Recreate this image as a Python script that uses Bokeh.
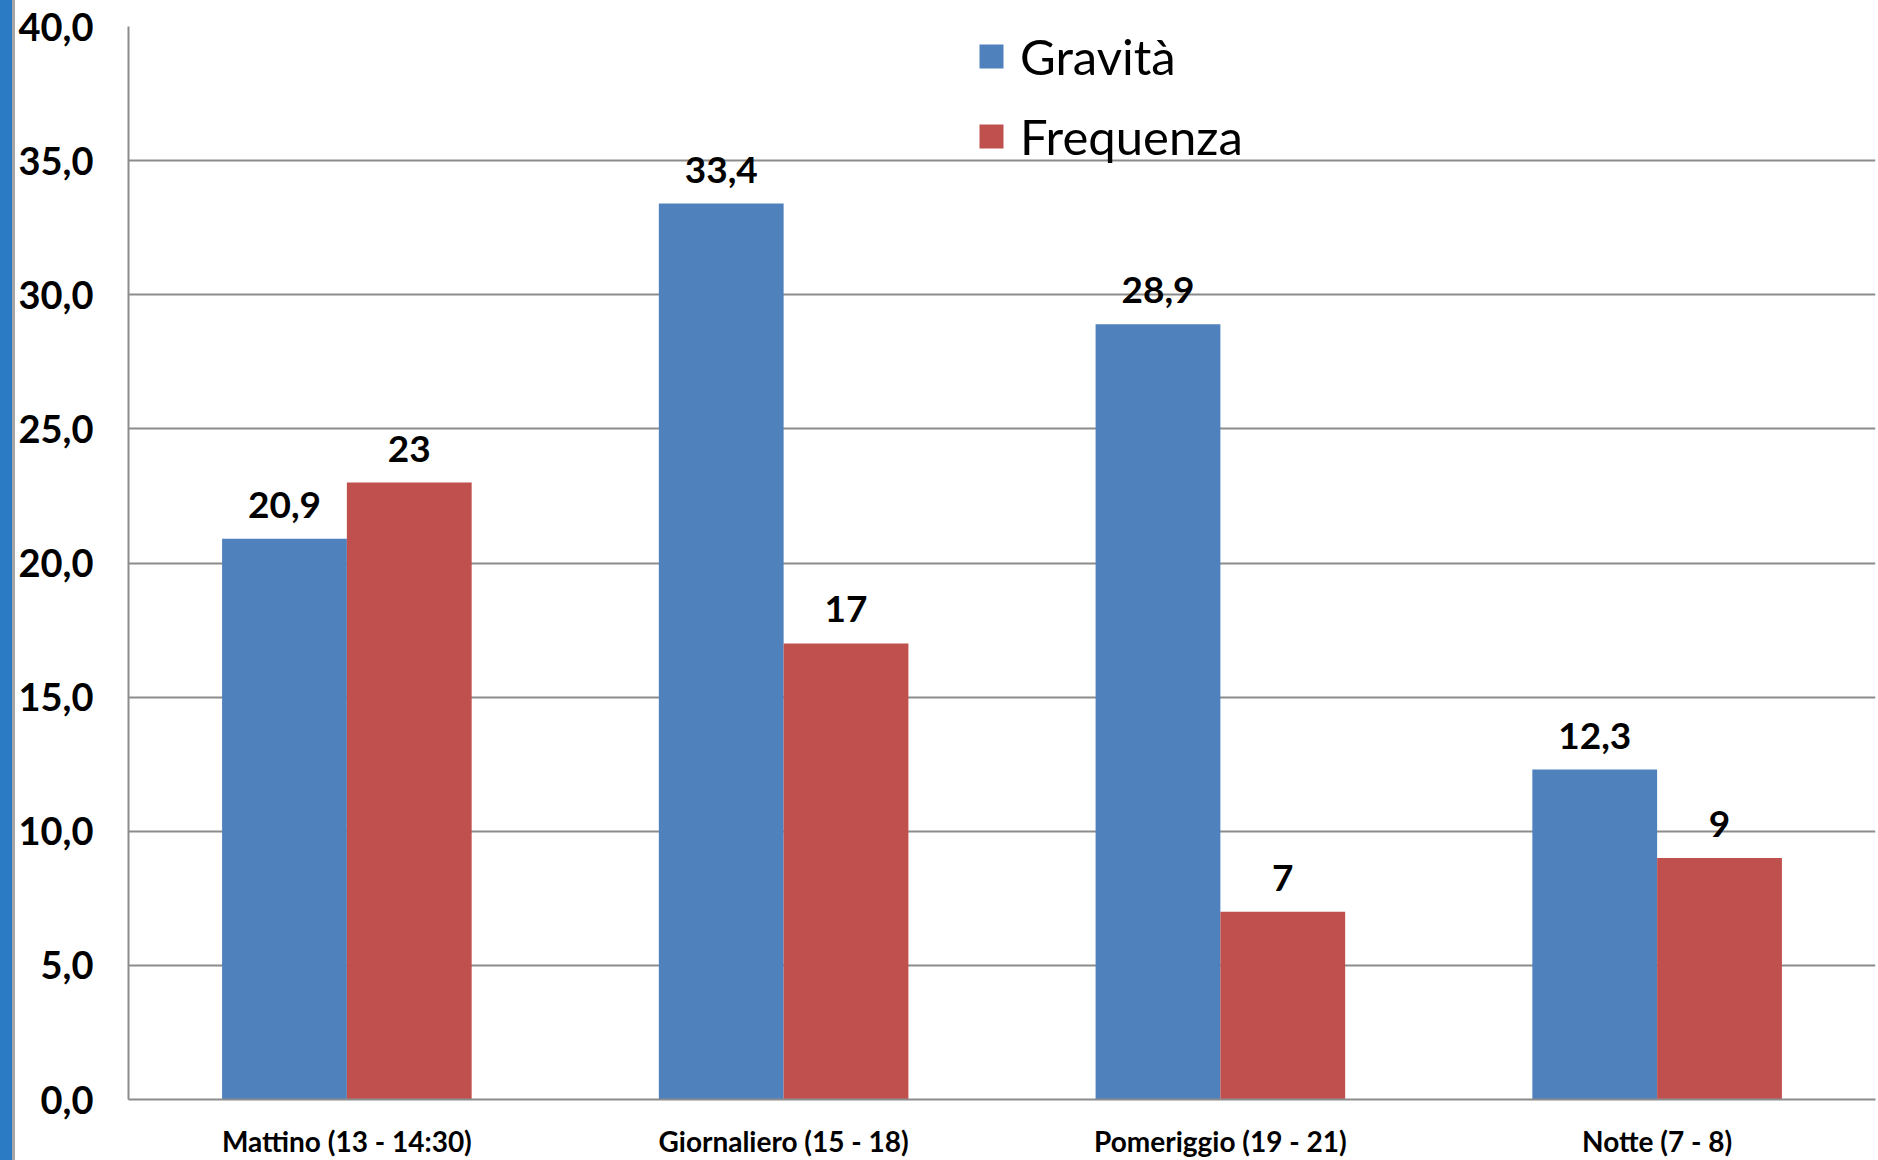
from bokeh.plotting import figure
from bokeh.models import (FactorRange, Range1d, Legend, LegendItem, CustomJSTickFormatter,
                          ColumnDataSource, Div, FixedTicker)
from bokeh.transform import dodge
from bokeh.layouts import row
from bokeh.core.properties import value
from bokeh.embed import file_html
from bokeh.resources import INLINE

categories = ["Mattino (13 - 14:30)", "Giornaliero (15 - 18)", "Pomeriggio (19 - 21)", "Notte (7 - 8)"]
gravita = [20.9, 33.4, 28.9, 12.3]
frequenza = [23, 17, 7, 9]
y_ticks = [0, 5, 10, 15, 20, 25, 30, 35, 40]
series_names = ["Gravità", "Frequenza"]

BLUE = "#4F81BD"
RED = "#C0504D"
GRID = "#8C8C8C"
FONT = "Lato"

src = ColumnDataSource(dict(
    cat=categories,
    grav=gravita,
    freq=frequenza,
    grav_lbl=[f"{v:.1f}".replace(".", ",") for v in gravita],
    freq_lbl=[str(v) for v in frequenza],
))

bar_w = 1 / 3.5

p = figure(x_range=FactorRange(factors=categories, range_padding=0),
           y_range=Range1d(0, 40),
           width=1863, height=1160,
           output_backend="svg", toolbar_location=None,
           min_border_left=113, min_border_right=3,
           min_border_top=26, min_border_bottom=61)

p.outline_line_color = None
p.background_fill_color = "white"
p.border_fill_color = "white"

r1 = p.vbar(x=dodge("cat", -bar_w / 2, range=p.x_range), top="grav", width=bar_w,
            source=src, fill_color=BLUE, line_color=None)
r2 = p.vbar(x=dodge("cat", bar_w / 2, range=p.x_range), top="freq", width=bar_w,
            source=src, fill_color=RED, line_color=None)

p.text(x=dodge("cat", -bar_w / 2, range=p.x_range), y="grav", text="grav_lbl", source=src,
       text_font=value(FONT), text_font_style="bold", text_font_size="37px",
       text_align="center", text_baseline="alphabetic", y_offset=-34, text_color="black")
p.text(x=dodge("cat", bar_w / 2, range=p.x_range), y="freq", text="freq_lbl", source=src,
       text_font=value(FONT), text_font_style="bold", text_font_size="37px",
       text_align="center", text_baseline="alphabetic", y_offset=-34, text_color="black")

# grid
p.xgrid.grid_line_color = None
p.ygrid.grid_line_color = GRID
p.ygrid.grid_line_width = 2

# y axis
p.yaxis.ticker = FixedTicker(ticks=y_ticks)
p.yaxis.formatter = CustomJSTickFormatter(code="return tick.toFixed(1).replace('.', ',');")
p.yaxis.major_label_text_font = FONT
p.yaxis.major_label_text_font_style = "bold"
p.yaxis.major_label_text_font_size = "38px"
p.yaxis.major_label_text_color = "black"
p.yaxis.major_label_standoff = 29
p.yaxis.major_tick_line_color = None
p.yaxis.minor_tick_line_color = None
p.yaxis.axis_line_color = GRID
p.yaxis.axis_line_width = 2

# x axis
p.xaxis.major_label_text_font = FONT
p.xaxis.major_label_text_font_style = "bold"
p.xaxis.major_label_text_font_size = "28px"
p.xaxis.major_label_text_color = "black"
p.xaxis.major_label_standoff = 18
p.xaxis.major_tick_line_color = None
p.xaxis.minor_tick_line_color = None
p.xaxis.axis_line_color = GRID
p.xaxis.axis_line_width = 2

legend = Legend(items=[LegendItem(label=series_names[0], renderers=[r1]),
                       LegendItem(label=series_names[1], renderers=[r2])],
                location=(848, 934), orientation="vertical",
                border_line_color=None, background_fill_alpha=0,
                label_text_font=FONT, label_text_font_size="49px",
                label_text_color="black",
                glyph_width=30, glyph_height=30, label_standoff=14,
                spacing=22, padding=0, margin=0)
p.add_layout(legend)

stripe = Div(width=15, height=1160, margin=0,
             styles={"background": "linear-gradient(to right, #2A7BC3 0px, #2A7BC3 12px, #A6A6A6 12px, #A6A6A6 15px)"})

layout = row(stripe, p, spacing=0)

open("out.html", "w").write(file_html(layout, INLINE))
